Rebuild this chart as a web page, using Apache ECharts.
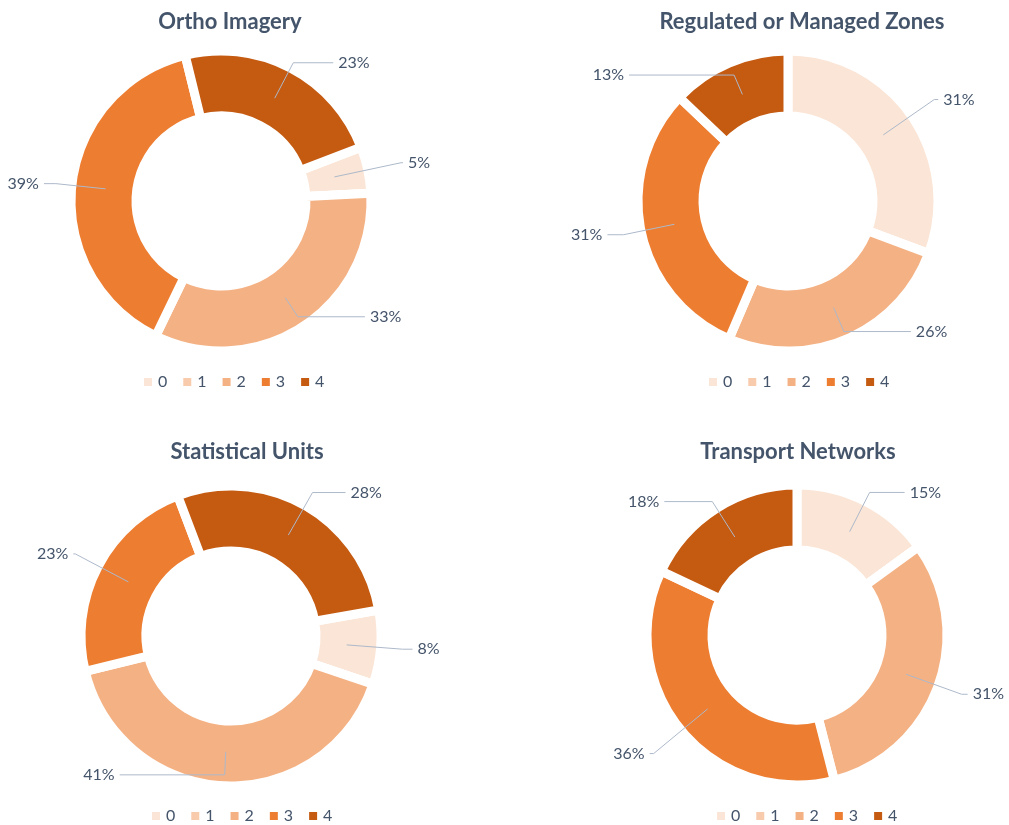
<!DOCTYPE html>
<html>
<head>
<meta charset="utf-8">
<script src="https://cdn.jsdelivr.net/npm/echarts@6/dist/echarts.min.js"></script>
<style>
  html, body { margin: 0; padding: 0; background: #fff; }
  #chart { width: 1009px; height: 825px; }
</style>
</head>
<body>
<div id="chart"></div>
<script>
(function () {
  var categories = ['0', '1', '2', '3', '4'];
  var colors = ['#fbe5d6', '#f8cbad', '#f4b183', '#ed7d31', '#c55a11'];

  var titles = ['Ortho Imagery', 'Regulated or Managed Zones', 'Statistical Units', 'Transport Networks'];
  var orthoImagery = [5, 0, 33, 39, 23];
  var regulatedZones = [31, 0, 26, 31, 13];
  var statisticalUnits = [8, 0, 41, 23, 28];
  var transportNetworks = [15, 0, 31, 36, 18];

  // layout of the four donuts: centre, first slice angle, title/legend position,
  // and leader line lengths [radial, horizontal] per category
  var panels = [
    { values: orthoImagery, cx: 221, cy: 201, start: 21, titleX: 225, titleY: 6, legendX: 232, legendY: 374,
      lines: [[68, 2], [0, 0], [23, 67], [50, 12], [40, 40]] },
    { values: regulatedZones, cx: 788, cy: 201, start: 90, titleX: 797, titleY: 6, legendX: 797, legendY: 374,
      lines: [[62, 4], [0, 0], [26, 67], [52, 16], [21, 105]] },
    { values: statisticalUnits, cx: 231, cy: 636, start: 10, titleX: 242, titleY: 436, legendX: 240, legendY: 808,
      lines: [[56, 10], [0, 0], [23, 105], [60, 2], [49, 33]] },
    { values: transportNetworks, cx: 797, cy: 635, start: 90, titleX: 793, titleY: 436, legendX: 805, legendY: 808,
      lines: [[44, 35], [0, 0], [59, 6], [70, 4], [42, 48]] }
  ];

  var textColor = '#44546a';
  var font = 'Lato';

  var myChart = echarts.init(document.getElementById('chart'));

  var title = [], legend = [], series = [];
  panels.forEach(function (p, i) {
    title.push({
      text: titles[i],
      left: p.titleX,
      top: p.titleY,
      textAlign: 'center',
      textStyle: { color: textColor, fontSize: 22, fontWeight: 'bold', fontFamily: font }
    });
    legend.push({
      data: categories,
      left: p.legendX - 90,
      top: p.legendY,
      padding: 0,
      orient: 'horizontal',
      icon: 'rect',
      itemWidth: 10,
      itemHeight: 10,
      itemGap: 14,
      selectedMode: false,
      textStyle: { color: textColor, fontSize: 16, fontFamily: font }
    });
    // the rings
    series.push({
      type: 'pie',
      center: [p.cx, p.cy],
      radius: [85, 150],
      startAngle: p.start,
      clockwise: true,
      silent: true,
      label: { show: false },
      labelLine: { show: false },
      itemStyle: { borderColor: '#fff', borderWidth: 9 },
      data: categories.map(function (c, k) {
        return { name: c, value: p.values[k], itemStyle: { color: colors[k] } };
      })
    });
    // transparent copy that carries the labels, so leader lines start inside the ring
    series.push({
      type: 'pie',
      center: [p.cx, p.cy],
      radius: [0, 116],
      startAngle: p.start,
      clockwise: true,
      silent: true,
      z: 5,
      avoidLabelOverlap: false,
      itemStyle: { color: 'rgba(0,0,0,0)', borderWidth: 0 },
      label: {
        show: true,
        position: 'outside',
        formatter: '{c}%',
        color: textColor,
        fontSize: 16,
        fontFamily: font,
        width: 36,
        bleedMargin: 0,
        overflow: 'none'
      },
      labelLine: {
        show: true,
        lineStyle: { color: '#adb9ca', width: 1 }
      },
      data: categories.map(function (c, k) {
        var hide = p.values[k] === 0;
        return {
          name: c,
          value: p.values[k],
          itemStyle: { color: 'rgba(0,0,0,0)' },
          label: { show: !hide },
          labelLine: { show: !hide, length: p.lines[k][0], length2: p.lines[k][1] }
        };
      })
    });
  });

  myChart.setOption({
    animation: false,
    color: colors,
    title: title,
    legend: legend,
    series: series
  });

  window.addEventListener('resize', function () {
    myChart.resize();
  });
})();
</script>
</body>
</html>
